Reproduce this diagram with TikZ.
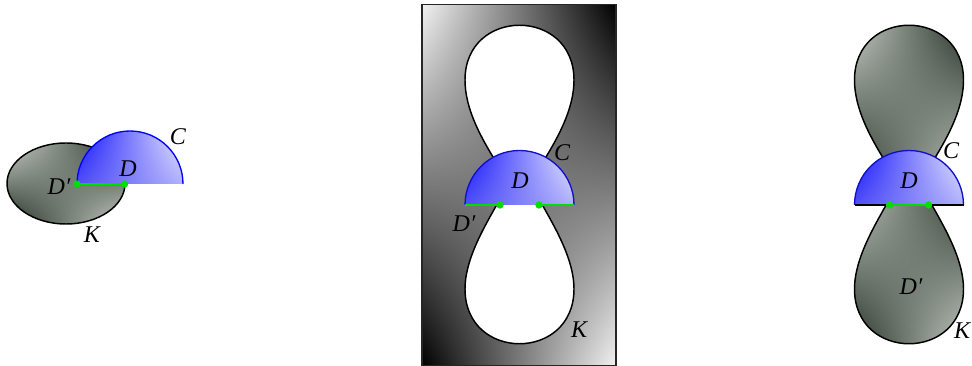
\documentclass[tikz,border=0pt]{standalone}
\usepackage{fontspec}
\setmainfont{Liberation Serif}
\usetikzlibrary{shadings}
\definecolor{gseg}{HTML}{00DD00}
\definecolor{arcL}{HTML}{0000FF}
\definecolor{arcM}{HTML}{1010C8}
\definecolor{dkA}{HTML}{1010FF}
\definecolor{dkB}{HTML}{EEEEFF}
\definecolor{dkC}{HTML}{5050F5}
\definecolor{dkD}{HTML}{B0B0FC}
\definecolor{kLight}{HTML}{CDD3CD}
\definecolor{kDark}{HTML}{1E2A1E}
\definecolor{bgLight}{HTML}{F2F2F2}
\definecolor{bgDark}{HTML}{000000}
\tikzset{
  lbl/.style={font=\fontsize{18}{21}\selectfont\itshape, inner sep=0pt},
  outl/.style={draw=black, line width=1.1pt},
  greenseg/.style={draw=gseg, line width=1.6pt},
  gdot/.style={circle, fill=gseg, inner sep=0pt, minimum size=5.5pt},
  diskshade/.style={upper left=dkA, upper right=dkB, lower left=dkC, lower right=dkD},
  kshade/.style={upper left=kLight, upper right=kDark, lower left=kDark, lower right=kLight},
  bgshade/.style={upper left=bgLight, upper right=bgDark, lower left=bgDark, lower right=bgLight},
}
\def\eightpath{(508,183) .. controls (499,163) and (465,122) .. (465,80)
  .. controls (465,7) and (574,7) .. (574,80)
  .. controls (574,122) and (540,163) .. (531,183)
  .. controls (541,207) and (574,250) .. (574,289)
  .. controls (574,362) and (465,362) .. (465,289)
  .. controls (465,250) and (498,207) .. (508,183) -- cycle}
\begin{document}
\begin{tikzpicture}[x=0.75pt,y=-0.75pt]
\useasboundingbox (0,0) rectangle (972,366);
\clip (0,0) rectangle (972,366);

% ---------- left panel ----------
\shade[kshade] (66,183.5) ellipse [x radius=59, y radius=40.5];
\draw[outl] (66,183.5) ellipse [x radius=59, y radius=40.5];
\shade[diskshade] (77,184) arc [start angle=180, end angle=360, radius=53] -- cycle;
\draw[draw=arcL, line width=1pt] (77,184) arc [start angle=180, end angle=360, radius=53];
\coordinate (La) at (77,184);
\coordinate (Lb) at (124.5,184);
\draw[greenseg] (La) -- (Lb);
\node[gdot] (LaDot) at (La) {};
\node[gdot] (LbDot) at (Lb) {};
\node[lbl] (LC) at (178,137) {C};
\node[lbl] (LD) at (128,169) {D};
\node[lbl] (LDp) at (59,187) {D′};
\node[lbl] (LK) at (92,235) {K};

% ---------- middle panel ----------
\shade[bgshade] (422,4.5) rectangle (616,365.5);
\draw[black!85, line width=0.8pt] (422,4.5) rectangle (616,365.5);
\filldraw[fill=white, outl] \eightpath;
\shade[diskshade] (465,205) arc [start angle=180, end angle=360, radius=54.5] -- cycle;
\draw[draw=arcM, line width=1pt] (465,205) arc [start angle=180, end angle=360, radius=54.5];
\coordinate (Ma) at (465,205);
\coordinate (Mb) at (500,205);
\coordinate (Mc) at (539,205);
\coordinate (Md) at (574,205);
\draw[greenseg] (Ma) -- (Mb);
\draw[greenseg] (Mc) -- (Md);
\node[gdot] (MbDot) at (Mb) {};
\node[gdot] (McDot) at (Mc) {};
\node[lbl] (MC) at (562,153) {C};
\node[lbl] (MD) at (520,181) {D};
\node[lbl] (MDp) at (464,224) {D′};
\node[lbl] (MK) at (579,330) {K};

% ---------- right panel ----------
\begin{scope}[shift={(389.5,0)}]
  \begin{scope}
    \clip \eightpath;
    \shade[kshade] (462,20) rectangle (577,184);
    \shade[kshade] (462,183) rectangle (577,350);
  \end{scope}
  \draw[outl] \eightpath;
\end{scope}
\shade[diskshade] (854.5,205) arc [start angle=180, end angle=360, radius=54.5] -- cycle;
\draw[draw=arcM, line width=1pt] (854.5,205) arc [start angle=180, end angle=360, radius=54.5];
\coordinate (Ra) at (854.5,205);
\coordinate (Rb) at (889.5,205);
\coordinate (Rc) at (928.5,205);
\coordinate (Rd) at (963.5,205);
\draw[black, line width=1.1pt] (Ra) -- (Rb);
\draw[black, line width=1.1pt] (Rc) -- (Rd);
\draw[greenseg] (Rb) -- (Rc);
\node[gdot] (RbDot) at (Rb) {};
\node[gdot] (RcDot) at (Rc) {};
\node[lbl] (RC) at (951,151) {C};
\node[lbl] (RD) at (909,181) {D};
\node[lbl] (RDp) at (911,287) {D′};
\node[lbl] (RK) at (962,331) {K};
\end{tikzpicture}
\end{document}
